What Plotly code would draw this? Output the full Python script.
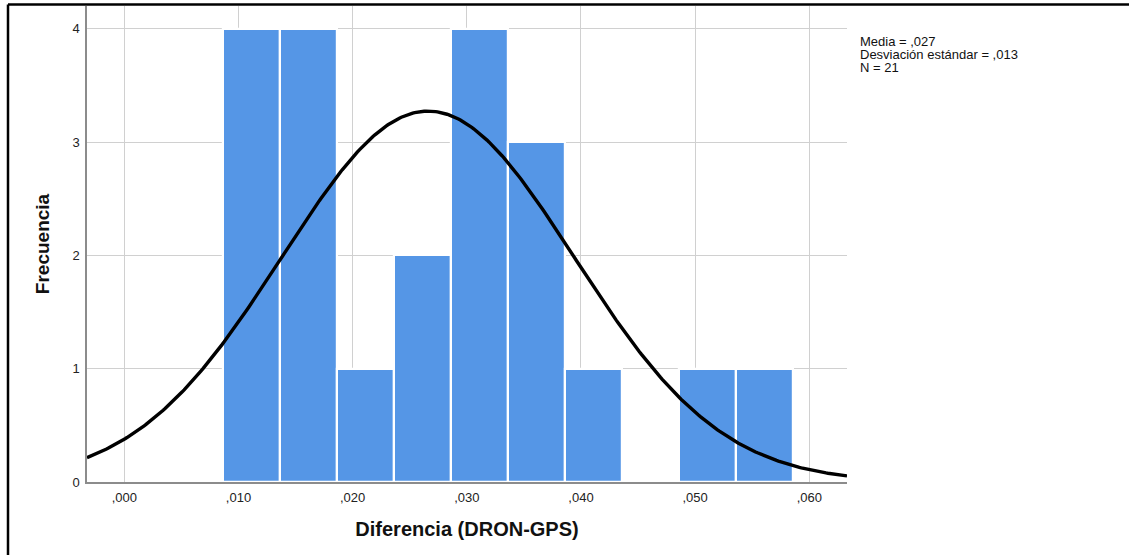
import numpy as np
import plotly.graph_objects as go

# ---- data ----
bin_start = 0.0086
bin_width = 0.005
counts = [4, 4, 1, 2, 4, 3, 1, 0, 1, 1]
mean_val = 0.0266
sd_val = 0.0128
n_val = 21
x_tickvals = [0.0, 0.01, 0.02, 0.03, 0.04, 0.05, 0.06]
x_ticktext = [",000", ",010", ",020", ",030", ",040", ",050", ",060"]
y_tickvals = [0, 1, 2, 3, 4]
stats_lines = ["Media = ,027", "Desviación estándar = ,013", "N = 21"]

x_range = [-0.00327, 0.0633]
y_range = [0, 4.2]

centers = [bin_start + bin_width * (i + 0.5) for i in range(len(counts))]

xs = np.linspace(x_range[0], x_range[1], 400)
ys = n_val * bin_width * np.exp(-0.5 * ((xs - mean_val) / sd_val) ** 2) / (sd_val * np.sqrt(2 * np.pi))

fig = go.Figure()
fig.add_trace(go.Bar(
    x=centers, y=counts, width=bin_width,
    marker=dict(color="#5596E6", line=dict(color="white", width=2.2)),
    hoverinfo="skip", showlegend=False,
))
fig.add_trace(go.Scatter(
    x=xs, y=ys, mode="lines",
    line=dict(color="black", width=3.4),
    hoverinfo="skip", showlegend=False,
))

font_family = "Liberation Sans, Arial, sans-serif"

PL, PR, PT, PB = 87, 282, 6, 73
PW = 1129 - PL - PR
PH = 555 - PT - PB


def px_x(px):
    return (px - PL) / PW


def px_y(py):
    return (555 - PB - py) / PH


annotations = []
for i, line in enumerate(stats_lines):
    annotations.append(dict(
        xref="paper", yref="paper", x=px_x(859), y=px_y(42 + i * 12.8),
        xanchor="left", yanchor="middle", align="left", showarrow=False,
        borderpad=0,
        text=line, font=dict(size=13, color="#111111", family=font_family),
    ))

fig.update_layout(
    width=1129, height=555,
    margin=dict(l=PL, r=PR, t=PT, b=PB),
    paper_bgcolor="white", plot_bgcolor="white",
    font=dict(family=font_family, color="#222222", size=13),
    bargap=0,
    xaxis=dict(
        range=x_range, tickvals=x_tickvals, ticktext=x_ticktext,
        showgrid=True, gridcolor="#D0D0D0", gridwidth=1,
        showline=True, linecolor="#8C8C8C", linewidth=1.5,
        zeroline=False, ticks="", tickfont=dict(size=13, color="#222222"),
        ticklabelstandoff=3,
        title=dict(text="<b>Diferencia (DRON-GPS)</b>", font=dict(size=20, color="#111111"), standoff=18),
        fixedrange=True,
    ),
    yaxis=dict(
        range=y_range, tickvals=y_tickvals,
        showgrid=True, gridcolor="#D0D0D0", gridwidth=1,
        showline=True, linecolor="#8C8C8C", linewidth=1.5,
        zeroline=False, ticks="", tickfont=dict(size=13, color="#222222"),
        ticklabelstandoff=3,
        title=dict(text="<b>Frecuencia</b>", font=dict(size=19, color="#111111"), standoff=18),
        fixedrange=True,
    ),
    annotations=annotations,
    shapes=[
        dict(type="line", xref="paper", yref="paper",
             x0=px_x(8), x1=px_x(1130),
             y0=px_y(4.5), y1=px_y(4.5),
             line=dict(color="black", width=2.5)),
        dict(type="line", xref="paper", yref="paper",
             x0=px_x(8), x1=px_x(8),
             y0=px_y(4.5), y1=px_y(556),
             line=dict(color="black", width=2.5)),
    ],
)

fig.write_html("out.html", config={"displayModeBar": False},
               post_script="document.body.style.margin='0';document.body.style.padding='0';")
